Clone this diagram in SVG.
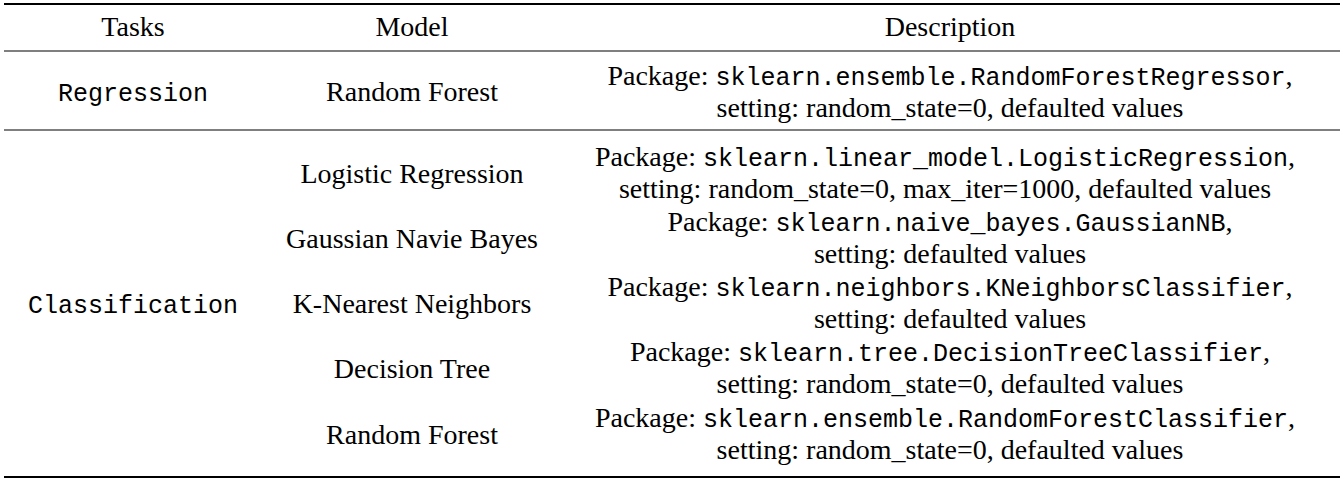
<svg xmlns="http://www.w3.org/2000/svg" width="1344" height="482" viewBox="0 0 1344 482">
<style>
text{font-family:"Liberation Serif",serif;font-size:28px;fill:#000;text-anchor:middle}
.m{font-family:"Liberation Mono",monospace;font-size:25px}
.thick{stroke:#000;stroke-width:2.2}
.thin{stroke:#000;stroke-width:1.2}
</style>
<rect width="1344" height="482" fill="#fff"/>
<g id="rules">
<line class="thick" x1="4" y1="4" x2="1340" y2="4"/>
<line class="thin" x1="4" y1="51" x2="1340" y2="51"/>
<line class="thin" x1="4" y1="130" x2="1340" y2="130"/>
<line class="thick" x1="4" y1="477" x2="1340" y2="477"/>
</g>
<g id="header">
<text x="133" y="36">Tasks</text>
<text x="412" y="36">Model</text>
<text x="950" y="36">Description</text>
</g>
<g id="regression">
<text class="m" x="133" y="101">Regression</text>
<text x="412" y="101">Random Forest</text>
<text x="950" y="85">Package: <tspan class="m">sklearn.ensemble.RandomForestRegressor</tspan>,</text>
<text x="950" y="117">setting: random_state=0, defaulted values</text>
</g>
<g id="classification">
<text class="m" x="133" y="313">Classification</text>
<text x="412" y="183">Logistic Regression</text>
<text x="945" y="166">Package: <tspan class="m">sklearn.linear_model.LogisticRegression</tspan>,</text>
<text x="945" y="198">setting: random_state=0, max_iter=1000, defaulted values</text>
<text x="412" y="248">Gaussian Navie Bayes</text>
<text x="950" y="231">Package: <tspan class="m">sklearn.naive_bayes.GaussianNB</tspan>,</text>
<text x="950" y="263">setting: defaulted values</text>
<text x="412" y="313">K-Nearest Neighbors</text>
<text x="950" y="296">Package: <tspan class="m">sklearn.neighbors.KNeighborsClassifier</tspan>,</text>
<text x="950" y="328">setting: defaulted values</text>
<text x="412" y="378">Decision Tree</text>
<text x="950" y="361">Package: <tspan class="m">sklearn.tree.DecisionTreeClassifier</tspan>,</text>
<text x="950" y="393">setting: random_state=0, defaulted values</text>
<text x="412" y="444">Random Forest</text>
<text x="945" y="427">Package: <tspan class="m">sklearn.ensemble.RandomForestClassifier</tspan>,</text>
<text x="950" y="459">setting: random_state=0, defaulted values</text>
</g>
</svg>
